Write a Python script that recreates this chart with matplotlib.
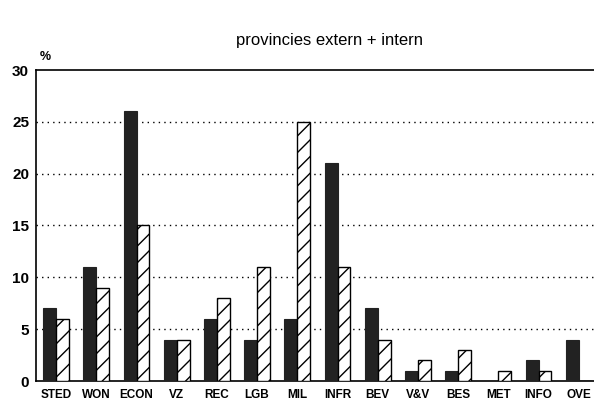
import matplotlib
matplotlib.use("Agg")
import matplotlib.pyplot as plt
import numpy as np

categories = ["STED", "WON", "ECON", "VZ", "REC", "LGB", "MIL", "INFR", "BEV", "V&V", "BES", "MET", "INFO", "OVE"]
extern = [7, 11, 26, 4, 6, 4, 6, 21, 7, 1, 1, 0, 2, 4]
intern = [6, 9, 15, 4, 8, 11, 25, 11, 4, 2, 3, 1, 1, 0]
yticks = [0, 5, 10, 15, 20, 25, 30]

plt.rcParams['font.family'] = ['Liberation Sans', 'DejaVu Sans']
plt.rcParams['hatch.linewidth'] = 1.0

fig = plt.figure(figsize=(5.94, 4.11), dpi=100)
ax = fig.add_axes([36/594, 1-381/411, 1-36/594, (381-70)/411])

x = np.arange(len(categories))
w = 0.32
ax.bar(x - w/2, extern, width=w, color='#222222', edgecolor='#222222', linewidth=0.8, zorder=3)
ax.bar(x + w/2, intern, width=w, color='white', edgecolor='black', hatch='//', linewidth=1.0, zorder=3)

ax.set_xlim(-0.5, 13.38)
ax.set_ylim(0, 30)
ax.set_yticks(yticks)
ax.set_yticklabels([str(v) for v in yticks], fontsize=11, fontweight='bold')
ax.set_xticks(x)
ax.set_xticklabels(categories, fontsize=8.5, fontweight='bold')
ax.tick_params(length=0, pad=5)
ax.tick_params(axis='x', pad=6)

for v in yticks[1:-1]:
    ax.axhline(v, color='black', linestyle=(0, (1, 3)), linewidth=1.0, zorder=1)

for s in ['left', 'bottom', 'top']:
    ax.spines[s].set_linewidth(1.2)
ax.spines['right'].set_visible(False)

fig.text(40/594, 1-57/411, "%", fontsize=9, fontweight='bold', ha='left', va='center')
fig.text(330/594, 1-40/411, "provincies extern + intern", fontsize=12, ha='center', va='center')

fig.savefig("out.png", dpi=100)
